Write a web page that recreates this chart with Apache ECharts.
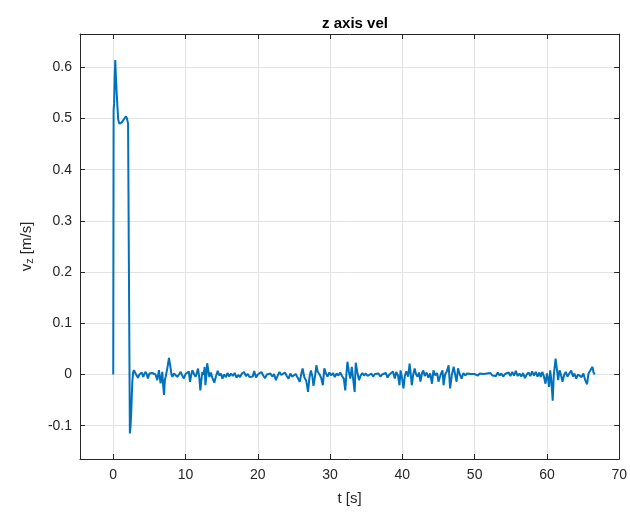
<!DOCTYPE html>
<html>
<head>
<meta charset="utf-8">
<script src="https://cdn.jsdelivr.net/npm/echarts@6/dist/echarts.min.js"></script>
<style>
  html, body { margin: 0; padding: 0; background: #ffffff; }
  #chart { width: 630px; height: 514px; }
</style>
</head>
<body>
<div id="chart"></div>
<script>
// Vertical velocity of the vehicle: take-off burst, then hover
const launchTime = [0, 0.05, 0.12, 0.2, 0.28, 0.4, 0.55, 0.69, 0.85, 0.97, 1.15, 1.35, 1.55, 1.75, 1.9, 2.0, 2.05, 2.3, 2.4, 2.49, 2.63, 2.75];
const launchVel  = [0, 0.516, 0.53, 0.58, 0.614, 0.57, 0.53, 0.497, 0.49, 0.487, 0.492, 0.495, 0.5, 0.504, 0.5, 0.499, 0.49, -0.115, -0.1, -0.073, -0.016, 0.004];

const hoverTime = [
  2.86, 3.05, 3.23, 3.42, 3.6, 3.78, 3.95, 4.15, 4.3, 4.48, 4.65, 4.8, 5.0, 5.17, 5.4, 5.63, 5.85, 6.09, 6.32, 6.55,
  6.79, 6.9, 7.02, 7.15, 7.25, 7.48, 7.71, 7.85, 7.94, 8.05, 8.17, 8.4, 8.6, 8.86, 9.1, 9.32, 9.55, 9.78, 10.0, 10.25,
  10.45, 10.62, 10.8, 10.94, 11.2, 11.4, 11.55, 11.73, 11.9, 12.05, 12.2, 12.33, 12.5, 12.65, 12.75, 12.9, 13.0, 13.15, 13.3, 13.5,
  13.7, 13.98, 14.2, 14.45, 14.7, 14.9, 15.1, 15.35, 15.6, 15.8, 16.05, 16.3, 16.55, 16.8, 17.05, 17.3, 17.55, 17.8, 18.1, 18.35,
  18.6, 18.85, 19.1, 19.3, 19.5, 19.75, 20.0, 20.25, 20.5, 20.75, 21.0, 21.25, 21.5, 21.75, 22.0, 22.25, 22.5, 22.75, 23.0, 23.25,
  23.5, 23.75, 24.0, 24.25, 24.5, 24.75, 25.0, 25.25, 25.5, 25.8, 26.0, 26.2, 26.45, 26.7, 26.95, 27.15, 27.35, 27.55, 27.7, 27.9,
  28.1, 28.3, 28.55, 28.75, 29.0, 29.2, 29.4, 29.65, 29.9, 30.15, 30.4, 30.65, 30.9, 31.15, 31.4, 31.65, 31.9, 32.1, 32.25, 32.4,
  32.6, 32.8, 33.0, 33.2, 33.4, 33.55, 33.75, 34.0, 34.2, 34.45, 34.7, 34.95, 35.2, 35.45, 35.7, 35.95, 36.2, 36.45, 36.7, 36.95,
  37.2, 37.45, 37.7, 37.95, 38.2, 38.45, 38.7, 38.95, 39.15, 39.4, 39.6, 39.75, 39.95, 40.15, 40.35, 40.55, 40.8, 41.0, 41.15, 41.3,
  41.5, 41.7, 41.9, 42.1, 42.3, 42.5, 42.7, 42.9, 43.1, 43.35, 43.6, 43.85, 44.1, 44.3, 44.55, 44.8, 45.0, 45.3, 45.55, 45.7,
  45.9, 46.15, 46.4, 46.6, 46.85, 47.1, 47.3, 47.5, 47.7, 47.95, 48.2, 48.45, 48.7, 48.95, 49.2, 49.45, 49.7, 49.95, 50.2, 50.45,
  50.7, 50.95, 51.2, 51.45, 51.7, 51.95, 52.2, 52.45, 52.7, 52.95, 53.2, 53.45, 53.7, 53.95, 54.2, 54.45, 54.7, 54.95, 55.2, 55.45,
  55.7, 55.95, 56.2, 56.45, 56.7, 56.95, 57.2, 57.45, 57.7, 57.95, 58.2, 58.45, 58.7, 58.95, 59.15, 59.35, 59.55, 59.8, 60.0, 60.15,
  60.3, 60.45, 60.6, 60.8, 60.95, 61.2, 61.4, 61.55, 61.75, 61.95, 62.15, 62.4, 62.6, 62.85, 63.1, 63.35, 63.6, 63.8, 64.05, 64.3,
  64.55, 64.8, 65.05, 65.3, 65.55, 65.75, 66.0, 66.3, 66.45, 66.6
];
const hoverVel = [
  0.0085, 0.003, 0.0065, -0.0065, 0.0, 0.002, 0.004, -0.0045, 0.001, 0.0052, 0.0, -0.0078, 0.002, -0.0013, 0.003, 0.0065, 0.0, -0.011, 0.0085, -0.0175,
  0.0052, -0.02, -0.04, -0.01, -0.0045, 0.012, 0.0325, 0.02, 0.012, 0.0, -0.0045, 0.002, 0.004, -0.0045, 0.0, 0.0052, -0.002, -0.0078, 0.001, 0.002,
  0.006, -0.0143, 0.0, 0.0085, 0.0, -0.0045, 0.003, 0.0117, -0.005, -0.031, -0.01, 0.0052, 0.0, 0.0149, -0.021, 0.0, 0.022, 0.008, -0.005, 0.004,
  -0.006, -0.016, -0.004, 0.007, -0.002, 0.002, -0.008, 0.0, -0.005, 0.003, -0.004, 0.002, -0.003, 0.003, -0.006, -0.001, -0.005, 0.002, 0.005, -0.003,
  0.001, -0.005, -0.002, -0.004, 0.007, -0.006, 0.0, -0.003, 0.005, -0.002, -0.007, 0.0, -0.002, 0.002, -0.004, 0.001, -0.011, -0.002, 0.005, -0.001,
  -0.004, 0.004, -0.003, -0.008, 0.002, -0.004, -0.001, 0.001, -0.006, -0.014, 0.0, 0.012, -0.006, -0.012, -0.034, -0.005, 0.008, -0.004, -0.022, -0.005,
  0.018, 0.005, 0.0, -0.006, -0.021, 0.012, 0.003, -0.004, 0.004, -0.002, 0.003, -0.005, 0.002, -0.002, 0.004, -0.003, -0.008, -0.031, 0.0, 0.025,
  0.005, -0.008, 0.015, -0.01, -0.034, 0.023, 0.006, -0.011, -0.003, 0.003, -0.002, 0.002, -0.003, 0.0, 0.002, -0.004, 0.001, -0.002, 0.002, -0.004,
  0.0, -0.003, 0.003, -0.006, 0.0, -0.003, 0.006, -0.008, 0.005, -0.002, -0.021, 0.008, -0.006, -0.027, -0.002, 0.006, -0.004, 0.0215, 0.002, -0.021,
  0.0, 0.012, 0.0, -0.004, 0.004, -0.014, 0.002, 0.008, -0.003, 0.004, -0.006, 0.002, -0.018, 0.008, -0.002, 0.003, -0.014, 0.0, 0.008, -0.021,
  0.0, 0.006, 0.018, -0.027, 0.0, 0.015, 0.0, -0.014, 0.012, 0.0, -0.008, 0.003, -0.002, 0.002, -0.001, 0.001, -0.002, 0.001, 0.0, -0.002,
  0.002, -0.001, 0.001, -0.002, 0.002, -0.001, 0.003, -0.002, 0.001, -0.003, 0.004, -0.002, 0.002, -0.004, 0.001, -0.002, 0.004, -0.003, 0.005, -0.002,
  0.007, -0.003, 0.002, -0.004, 0.003, -0.007, 0.0, 0.004, -0.003, 0.006, -0.002, 0.005, -0.004, 0.004, -0.005, 0.005, -0.002, -0.018, 0.002, -0.008,
  -0.024, 0.008, -0.01, -0.051, -0.001, 0.031, 0.008, -0.011, 0.008, -0.001, -0.014, 0.0, 0.005, -0.004, 0.002, 0.008, -0.004, 0.002, -0.008, 0.0,
  0.002, -0.005, 0.002, -0.011, -0.019, 0.002, 0.008, 0.015, 0.004, 0.0
];

// Axis ranges and tick positions
const xRange = [-4.6, 70];
const yRange = [-0.165, 0.665];
const xTicks = [0, 10, 20, 30, 40, 50, 60, 70];
const yTicks = [-0.1, 0, 0.1, 0.2, 0.3, 0.4, 0.5, 0.6];

const times = launchTime.concat(hoverTime);
const vels = launchVel.concat(hoverVel);
const points = times.map((t, i) => [t, vels[i]]);

const ink = '#262626';
const gridColor = '#e3e3e3';
const fontFamily = '"Liberation Sans", Arial, Helvetica, sans-serif';

function axisBase(range, ticks) {
  return {
    type: 'value',
    min: range[0],
    max: range[1],
    axisLine: { show: true, onZero: false, lineStyle: { color: ink, width: 1 } },
    axisTick: { show: true, inside: true, length: 5, customValues: ticks, lineStyle: { color: ink, width: 1 } },
    axisLabel: { show: true, customValues: ticks, color: ink, fontSize: 14, fontFamily: fontFamily },
    splitLine: { show: true, lineStyle: { color: gridColor, width: 1 } }
  };
}

const xMain = axisBase(xRange, xTicks);
Object.assign(xMain, {
  position: 'bottom',
  name: 't [s]',
  nameLocation: 'middle',
  nameGap: 32,
  nameTextStyle: { color: ink, fontSize: 15, fontFamily: fontFamily }
});
xMain.axisLabel.margin = 9;

const xTop = axisBase(xRange, xTicks);
Object.assign(xTop, { position: 'top' });
xTop.axisLabel = { show: false };
xTop.splitLine = { show: false };

const yMain = axisBase(yRange, yTicks);
Object.assign(yMain, {
  position: 'left',
  name: '{v|v}{sub|z}{v| [m/s]}',
  nameLocation: 'middle',
  nameGap: 45,
  nameTextStyle: {
    color: ink,
    fontFamily: fontFamily,
    rich: {
      v: { fontSize: 15, color: ink, fontFamily: fontFamily },
      sub: { fontSize: 11, color: ink, fontFamily: fontFamily, verticalAlign: 'bottom', padding: [6, 0, 0, 0] }
    }
  }
});
yMain.axisLabel.margin = 8;

const yRight = axisBase(yRange, yTicks);
Object.assign(yRight, { position: 'right' });
yRight.axisLabel = { show: false };
yRight.splitLine = { show: false };

const chart = echarts.init(document.getElementById('chart'), null, { renderer: 'canvas' });
chart.setOption({
  animation: false,
  backgroundColor: '#ffffff',
  title: {
    text: 'z axis vel',
    left: 350,
    textAlign: 'center',
    top: 11,
    textStyle: { color: '#000000', fontSize: 15, fontWeight: 'bold', fontFamily: fontFamily }
  },
  grid: { left: 80, right: 10, top: 34, bottom: 55, containLabel: false },
  xAxis: [xMain, xTop],
  yAxis: [yMain, yRight],
  series: [{
    type: 'line',
    xAxisIndex: 0,
    yAxisIndex: 0,
    data: points,
    showSymbol: false,
    lineStyle: { color: '#0072BD', width: 2 },
    clip: true
  }]
});
</script>
</body>
</html>
